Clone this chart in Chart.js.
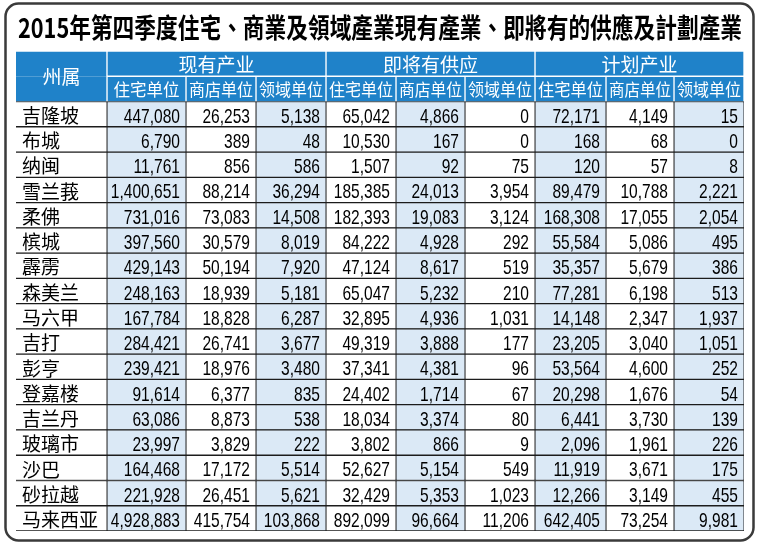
<!DOCTYPE html>
<html>
<head>
<meta charset="utf-8">
<script src="https://cdn.jsdelivr.net/npm/chart.js@4.4.1/dist/chart.umd.min.js"></script>
<style>
html,body{margin:0;padding:0;background:#fff;}
#wrap{width:761px;height:548px;position:relative;}
</style>
</head>
<body>
<div id="wrap"><canvas id="c" width="761" height="548"></canvas></div>
<script>
// ---- data ----
const title = '2015年第四季度住宅、商業及領域產業現有產業、即將有的供應及計劃產業';
const stateHeader = '州属';
const groups = ['现有产业', '即将有供应', '计划产业'];
const subHeaders = ['住宅单位', '商店单位', '领域单位'];
const states = ['吉隆坡','布城','纳闽','雪兰莪','柔佛','槟城','霹雳','森美兰','马六甲','吉打','彭亨','登嘉楼','吉兰丹','玻璃市','沙巴','砂拉越','马来西亚'];
const existingRes  = [447080,6790,11761,1400651,731016,397560,429143,248163,167784,284421,239421,91614,63086,23997,164468,221928,4928883];
const existingShop = [26253,389,856,88214,73083,30579,50194,18939,18828,26741,18976,6377,8873,3829,17172,26451,415754];
const existingLand = [5138,48,586,36294,14508,8019,7920,5181,6287,3677,3480,835,538,222,5514,5621,103868];
const supplyRes    = [65042,10530,1507,185385,182393,84222,47124,65047,32895,49319,37341,24402,18034,3802,52627,32429,892099];
const supplyShop   = [4866,167,92,24013,19083,4928,8617,5232,4936,3888,4381,1714,3374,866,5154,5353,96664];
const supplyLand   = [0,0,75,3954,3124,292,519,210,1031,177,96,67,80,9,549,1023,11206];
const planRes      = [72171,168,120,89479,168308,55584,35357,77281,14148,23205,53564,20298,6441,2096,11919,12266,642405];
const planShop     = [4149,68,57,10788,17055,5086,5679,6198,2347,3040,4600,1676,3730,1961,3671,3149,73254];
const planLand     = [15,0,8,2221,2054,495,386,513,1937,1051,252,54,139,226,175,455,9981];

const valueColumns = [existingRes, existingShop, existingLand, supplyRes, supplyShop, supplyLand, planRes, planShop, planLand];

// ---- layout ----
const colWidths = [91,79,70,70,70,69,70,71,68,70];
const edges = [0];
colWidths.forEach(w => edges.push(edges[edges.length-1] + w));
const HEADER_BLUE = '#1f82c9';
const LIGHT_BLUE = '#dbe9f6';
const LINE = '#1c1c1c';

const rowKeys = ['__group', '__sub'].concat(states);
const nRows = rowKeys.length;

const datasets = [];
for (let c = 0; c < colWidths.length; c++) {
  const data = [], bg = [], bw = [], bc = [];
  for (let r = 0; r < nRows; r++) {
    const span = [edges[c], edges[c+1]];
    if (r === 0) {
      if (c === 0) { data.push(span); bg.push(HEADER_BLUE); bw.push({top:1,bottom:0,left:0,right:1}); bc.push('#ffffff'); }
      else { data.push(null); bg.push('transparent'); bw.push(0); bc.push('transparent'); }
    } else if (r === 1) {
      data.push(span); bg.push(HEADER_BLUE);
      bw.push(c === 0 ? {top:0,bottom:0,left:0,right:1} : {top:1,bottom:0,left:1,right:1});
      bc.push('#ffffff');
    } else {
      data.push(span);
      bg.push(c === 0 ? '#ffffff' : (c % 2 === 1 ? LIGHT_BLUE : '#ffffff'));
      bw.push({top:1, bottom:1, left: c === 0 ? 0 : 0.8, right: 0.8});
      bc.push(LINE);
    }
  }
  datasets.push({ label: 'col' + c, data, backgroundColor: bg, borderWidth: bw, borderColor: bc,
    borderSkipped: false, grouped: false, barPercentage: 1, categoryPercentage: 1, order: 2 });
}
groups.forEach((g, k) => {
  const data = rowKeys.map((_, r) => r === 0 ? [edges[1 + 3*k], edges[4 + 3*k]] : null);
  datasets.push({ label: g, data, backgroundColor: HEADER_BLUE, borderColor: '#ffffff',
    borderWidth: {top:1,bottom:1,left:1,right:1}, borderSkipped: false, grouped: false,
    barPercentage: 1, categoryPercentage: 1, order: 1 });
});

function fmt(v) { return v.toLocaleString('en-US'); }

const tablePlugin = {
  id: 'tableText',
  beforeDraw(chart) {
    const ctx = chart.ctx;
    ctx.save();
    ctx.fillStyle = '#ffffff';
    ctx.fillRect(0, 0, chart.width, chart.height);
    // frame
    ctx.strokeStyle = '#3a3a3a';
    ctx.lineWidth = 2.5;
    ctx.beginPath();
    ctx.roundRect(5.5, 3.5, 748, 537, 13);
    ctx.stroke();
    // title
    ctx.fillStyle = '#000000';
    ctx.font = 'bold 27px "Noto Sans CJK TC", "Noto Sans CJK SC", sans-serif';
    ctx.textAlign = 'center';
    ctx.textBaseline = 'middle';
    ctx.fillText(title, 380, 28, 724);
    ctx.restore();
  },
  afterDatasetsDraw(chart) {
    const ctx = chart.ctx, xs = chart.scales.x, ys = chart.scales.y;
    const px = v => xs.getPixelForValue(v);
    ctx.save();
    // header texts
    ctx.fillStyle = '#ffffff';
    ctx.textAlign = 'center';
    ctx.textBaseline = 'middle';
    ctx.font = '19px "Noto Sans CJK SC", sans-serif';
    const yMid = (ys.getPixelForValue(0) + ys.getPixelForValue(1)) / 2;
    ctx.fillText(stateHeader, (px(edges[0]) + px(edges[1])) / 2, yMid + 1);
    groups.forEach((g, k) => {
      ctx.fillText(g, (px(edges[1+3*k]) + px(edges[4+3*k])) / 2, ys.getPixelForValue(0) + 1);
    });
    ctx.font = '16.5px "Noto Sans CJK SC", sans-serif';
    for (let c = 1; c < colWidths.length; c++) {
      ctx.fillText(subHeaders[(c-1) % 3], (px(edges[c]) + px(edges[c+1])) / 2, ys.getPixelForValue(1) + 1, colWidths[c] - 6);
    }
    // state names
    ctx.fillStyle = '#000000';
    ctx.textAlign = 'left';
    ctx.font = '19px "Noto Sans CJK SC", sans-serif';
    states.forEach((s, i) => {
      ctx.fillText(s, px(edges[0]) + 6, ys.getPixelForValue(i + 2) + 1.5);
    });
    // numbers
    ctx.font = '21px "Liberation Sans", Arial, sans-serif';
    ctx.textAlign = 'right';
    ctx.textBaseline = 'alphabetic';
    const sx = 0.74;
    valueColumns.forEach((col, c) => {
      const right = px(edges[c+2]) - 6;
      col.forEach((v, i) => {
        const y = ys.getPixelForValue(i + 2) + 8.5;
        ctx.save();
        ctx.translate(right, y);
        ctx.scale(sx, 1);
        ctx.fillText(fmt(v), 0, 0);
        ctx.restore();
      });
    });
    ctx.restore();
  }
};

new Chart(document.getElementById('c'), {
  type: 'bar',
  data: { labels: rowKeys, datasets },
  options: {
    indexAxis: 'y',
    responsive: false,
    animation: false,
    layout: { padding: { left: 16, right: 17, top: 51, bottom: 17 } },
    scales: {
      x: { type: 'linear', min: 0, max: edges[edges.length-1], display: false },
      y: { type: 'category', display: false, offset: true }
    },
    plugins: { legend: { display: false }, tooltip: { enabled: false } }
  },
  plugins: [tablePlugin]
});
</script>
</body>
</html>
